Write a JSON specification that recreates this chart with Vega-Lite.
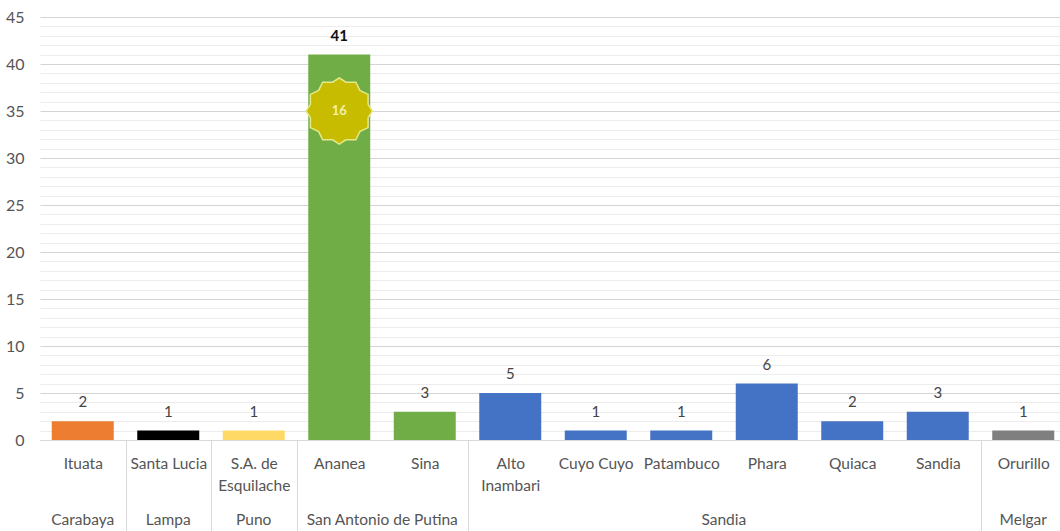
{"$schema":"https://vega.github.io/schema/vega-lite/v6.json","width":1020,"height":423,"autosize":"none","padding":{"left":40,"top":17,"right":0,"bottom":91},"background":"white","config":{"view":{"stroke":null},"font":"Lato"},"data":{"values":[{"m":"Ituata","p":"Carabaya","v":2},{"m":"Santa Lucia","p":"Lampa","v":1},{"m":"S.A. de Esquilache","p":"Puno","v":1},{"m":"Ananea","p":"San Antonio de Putina","v":41,"inner":16,"at":35},{"m":"Sina","p":"San Antonio de Putina","v":3},{"m":"Alto Inambari","p":"Sandia","v":5},{"m":"Cuyo Cuyo","p":"Sandia","v":1},{"m":"Patambuco","p":"Sandia","v":1},{"m":"Phara","p":"Sandia","v":6},{"m":"Quiaca","p":"Sandia","v":2},{"m":"Sandia","p":"Sandia","v":3},{"m":"Orurillo","p":"Melgar","v":1}]},"resolve":{"axis":{"x":"independent"}},"layer":[{"mark":{"type":"bar","width":{"band":0.725}},"encoding":{"x":{"field":"m","type":"nominal","sort":null,"scale":{"range":[0,1026],"paddingInner":0,"paddingOuter":0},"axis":{"title":null,"labelAngle":0,"labelFontSize":15.5,"labelColor":"#555555","labelPadding":-75,"labelLineHeight":22,"labelBaseline":"top","labelExpr":"datum.value=='S.A. de Esquilache'?['S.A. de','Esquilache']:datum.value=='Alto Inambari'?['Alto','Inambari']:datum.value","tickBand":"extent","tickSize":91,"tickWidth":1,"tickColor":{"expr":"indexof(['Ituata','Santa Lucia','S.A. de Esquilache','Sina','Sandia'],datum.value)>=0?'#d9d9d9':'transparent'"},"domainColor":"#d9d9d9","labelLimit":0,"labelOverlap":false}},"y":{"field":"v","type":"quantitative","scale":{"domain":[0,45]},"axis":{"title":null,"tickCount":100,"format":"d","values":[0,1,2,3,4,5,6,7,8,9,10,11,12,13,14,15,16,17,18,19,20,21,22,23,24,25,26,27,28,29,30,31,32,33,34,35,36,37,38,39,40,41,42,43,44,45],"labelExpr":"datum.value%5==0?datum.label:''","labelOverlap":false,"labelFontSize":16,"labelColor":"#555555","labelPadding":16,"ticks":false,"domain":false,"grid":true,"gridColor":{"expr":"datum.value%5==0?'#d4d4d4':'#ececec'"},"gridWidth":1}},"color":{"field":"p","type":"nominal","legend":null,"scale":{"domain":["Carabaya","Lampa","Puno","San Antonio de Putina","Sandia","Melgar"],"range":["#ed7d31","#000000","#ffd966","#70ad47","#4472c4","#7f7f7f"]}}}},{"mark":{"type":"text","dy":-19,"fontSize":15,"color":"#444444"},"transform":[{"filter":"datum.v<41"}],"encoding":{"x":{"field":"m","type":"nominal","sort":null,"axis":{"title":null,"orient":"bottom","domain":false,"ticks":false,"labelAngle":0,"labelFontSize":15.5,"labelColor":"#555555","labelPadding":72,"labelBaseline":"top","labelLimit":0,"labelOverlap":false,"labelExpr":"{'Ituata':'Carabaya','Santa Lucia':'Lampa','S.A. de Esquilache':'Puno','Ananea':'San Antonio de Putina','Phara':'Sandia','Orurillo':'Melgar'}[datum.value]||''","labelOffset":{"expr":"datum.value=='Ananea'?43:datum.value=='Phara'?-43:0"}}},"y":{"field":"v","type":"quantitative"},"text":{"field":"v"}}},{"mark":{"type":"text","dy":-19,"fontSize":15,"fontWeight":"bold","color":"#111111"},"transform":[{"filter":"datum.v==41"}],"encoding":{"x":{"field":"m","type":"nominal","sort":null,"axis":null},"y":{"field":"v","type":"quantitative"},"text":{"field":"v"}}},{"mark":{"type":"point","filled":true,"fill":"#c8bc00","stroke":"#e6e88a","strokeWidth":1.5,"opacity":1,"size":4400,"shape":"M0,-1 L0.2,-0.87 L0.5,-0.87 L0.62,-0.62 L0.87,-0.5 L0.87,-0.2 L1,0 L0.87,0.2 L0.87,0.5 L0.62,0.62 L0.5,0.87 L0.2,0.87 L0,1 L-0.2,0.87 L-0.5,0.87 L-0.62,0.62 L-0.87,0.5 L-0.87,0.2 L-1,0 L-0.87,-0.2 L-0.87,-0.5 L-0.62,-0.62 L-0.5,-0.87 L-0.2,-0.87 Z"},"transform":[{"filter":"isValid(datum.inner)"}],"encoding":{"x":{"field":"m","type":"nominal","sort":null,"axis":null},"y":{"field":"at","type":"quantitative"}}},{"mark":{"type":"text","fontSize":13,"fontWeight":"bold","color":"#f4f0b0"},"transform":[{"filter":"isValid(datum.inner)"}],"encoding":{"x":{"field":"m","type":"nominal","sort":null,"axis":null},"y":{"field":"at","type":"quantitative"},"text":{"field":"inner"}}}]}
